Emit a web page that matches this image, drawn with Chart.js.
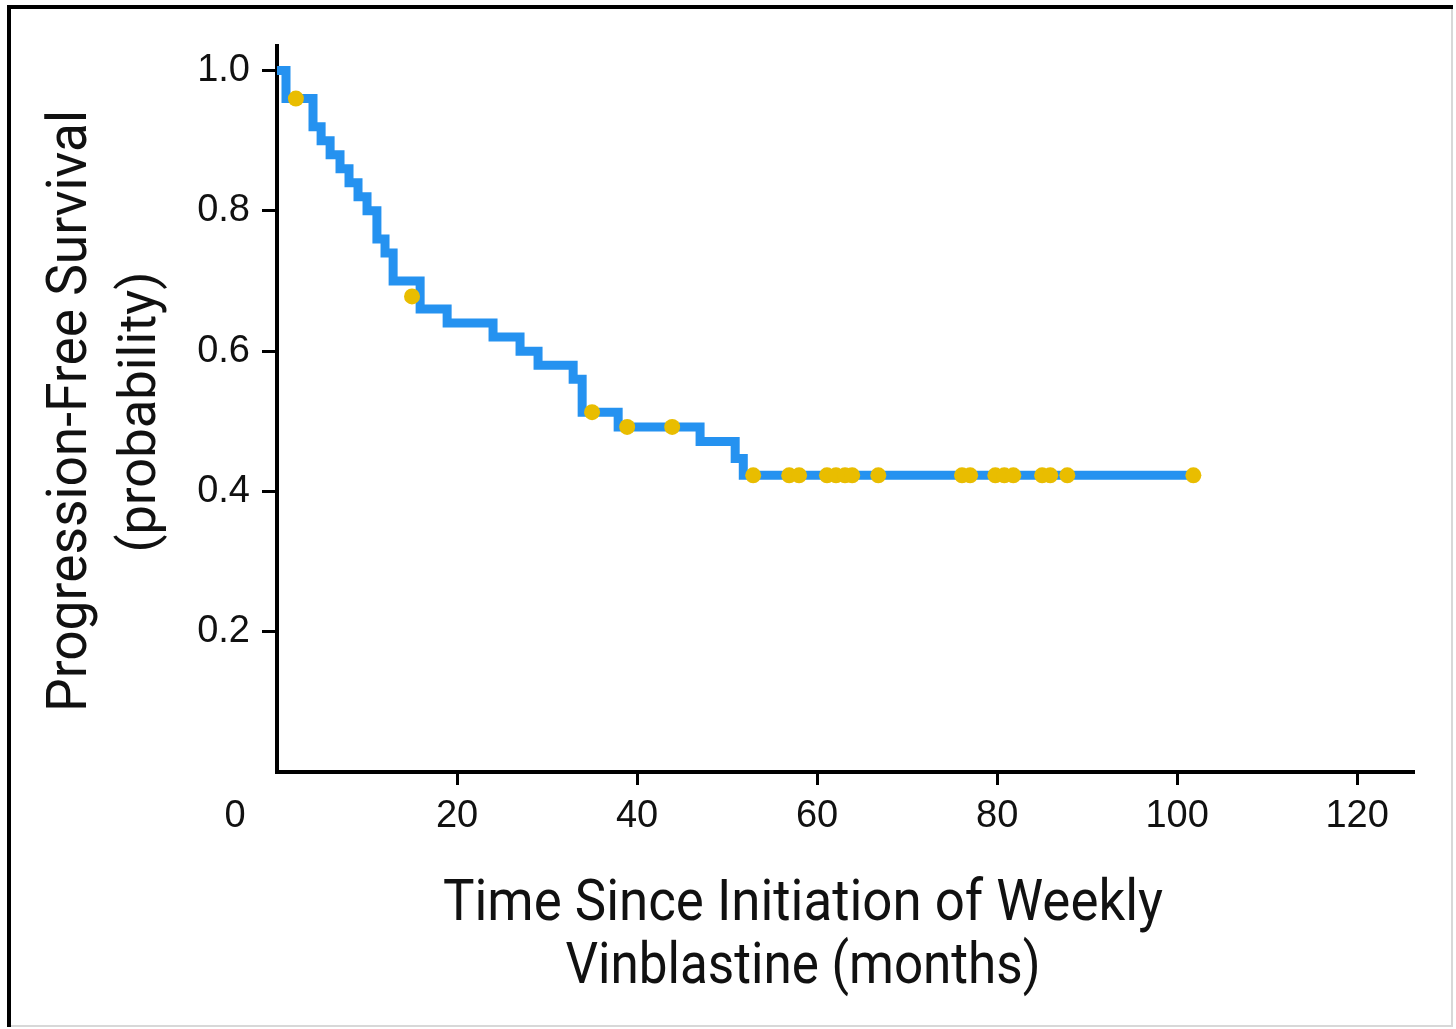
<!DOCTYPE html>
<html>
<head>
<meta charset="utf-8">
<title>Progression-Free Survival</title>
<script src="https://cdn.jsdelivr.net/npm/chart.js@4/dist/chart.umd.min.js"></script>
<style>
  html, body { margin: 0; padding: 0; background: #fff; }
  canvas { display: block; }
</style>
</head>
<body>
<canvas id="kmChart" width="1456" height="1029"></canvas>
<script>
// Kaplan-Meier steps: time of event (months) and survival after it
const eventMonths = [0, 1, 4, 4.9, 5.9, 7, 8, 9, 10, 11.1, 12, 12.9, 15.9, 18.9, 24, 27, 29, 32.9, 33.9, 37.9, 47, 50.9, 51.8, 101.8];
const survival    = [1.0, 0.96, 0.92, 0.90, 0.88, 0.86, 0.84, 0.82, 0.80, 0.76, 0.74, 0.70, 0.66, 0.64, 0.62, 0.60, 0.58, 0.56, 0.513, 0.492, 0.471, 0.447, 0.423, 0.423];

// censored patients
const censorMonths   = [2.1, 15.0, 35.0, 38.9, 43.9, 52.9, 56.9, 58.0, 61.1, 62.1, 63.1, 63.9, 66.8, 76.1, 77.0, 79.8, 80.8, 81.8, 85.0, 85.9, 87.8, 101.8];
const censorSurvival = [0.96, 0.678, 0.513, 0.492, 0.492, 0.423, 0.423, 0.423, 0.423, 0.423, 0.423, 0.423, 0.423, 0.423, 0.423, 0.423, 0.423, 0.423, 0.423, 0.423, 0.423, 0.423];

const xTicks = [20, 40, 60, 80, 100, 120];
const yTicks = [0.2, 0.4, 0.6, 0.8, 1.0];

const yTitle = ["Progression-Free Survival", "(probability)"];
const xTitle = ["Time Since Initiation of Weekly", "Vinblastine (months)"];

// draw text squeezed to a given width (source uses a narrow face)
function drawFitted(ctx, text, cx, baseline, width, font, rotate) {
  ctx.save();
  ctx.font = font;
  const w = ctx.measureText(text).width;
  ctx.translate(cx, baseline);
  if (rotate) ctx.rotate(-Math.PI / 2);
  ctx.scale(width / w, 1);
  ctx.textAlign = "center";
  ctx.textBaseline = "alphabetic";
  ctx.fillStyle = "#111";
  ctx.fillText(text, 0, 0);
  ctx.restore();
}

const extras = {
  id: "extras",
  afterDraw(chart) {
    const ctx = chart.ctx;
    const xs = chart.scales.x;

    // frame of the figure
    ctx.save();
    ctx.strokeStyle = "#d8d8d8";
    ctx.lineWidth = 2;
    ctx.strokeRect(9, 7, 1443, 1019);
    ctx.fillStyle = "#000";
    ctx.fillRect(7, 5, 1446, 4);
    ctx.fillRect(7, 5, 4, 1022);
    ctx.restore();

    // shared origin label
    ctx.save();
    ctx.font = "38px 'Liberation Sans', Arial, sans-serif";
    ctx.fillStyle = "#111";
    ctx.textAlign = "center";
    ctx.textBaseline = "middle";
    ctx.fillText("0", xs.getPixelForValue(0) - 42, 817);
    ctx.restore();

    // axis titles
    drawFitted(ctx, yTitle[0], 86, 411, 602, "56px Roboto, 'Liberation Sans', sans-serif", true);
    drawFitted(ctx, yTitle[1], 155, 412, 281, "51px Roboto, 'Liberation Sans', sans-serif", true);
    drawFitted(ctx, xTitle[0], 803, 920, 720, "58px Roboto, 'Liberation Sans', sans-serif", false);
    drawFitted(ctx, xTitle[1], 803, 983, 475, "58px Roboto, 'Liberation Sans', sans-serif", false);
  }
};

const ctx = document.getElementById("kmChart").getContext("2d");
new Chart(ctx, {
  type: "line",
  data: {
    datasets: [
      {
        label: "Censored",
        data: censorMonths.map((m, i) => ({ x: m, y: censorSurvival[i] })),
        showLine: false,
        pointRadius: 8,
        pointBackgroundColor: "#e9bd00",
        pointBorderWidth: 0,
        clip: false
      },
      {
        label: "PFS",
        data: eventMonths.map((m, i) => ({ x: m, y: survival[i] })),
        stepped: "before",
        borderColor: "#2592f0",
        borderWidth: 9,
        borderJoinStyle: "miter",
        pointRadius: 0,
        fill: false,
        clip: false
      }
    ]
  },
  options: {
    responsive: false,
    animation: false,
    devicePixelRatio: 1,
    layout: { padding: { top: 46, right: 43, left: 0, bottom: 0 } },
    plugins: {
      legend: { display: false },
      tooltip: { enabled: false }
    },
    scales: {
      x: {
        type: "linear",
        min: 0,
        max: 126.2,
        afterFit: s => { s.height = 257; },
        afterBuildTicks: s => { s.ticks = xTicks.map(v => ({ value: v })); },
        border: { display: true, color: "#000", width: 4 },
        grid: { display: true, drawOnChartArea: false, drawTicks: true, tickLength: 13, color: "#000", lineWidth: 3 },
        ticks: {
          padding: 9,
          color: "#111",
          font: { family: "'Liberation Sans', Arial, sans-serif", size: 38 },
          maxRotation: 0
        }
      },
      y: {
        type: "linear",
        min: 0,
        max: 1.035,
        afterFit: s => { s.width = 277; },
        afterBuildTicks: s => { s.ticks = yTicks.map(v => ({ value: v })); },
        border: { display: true, color: "#000", width: 4 },
        grid: { display: true, drawOnChartArea: false, drawTicks: true, tickLength: 15, color: "#000", lineWidth: 3 },
        ticks: {
          padding: 12,
          color: "#111",
          font: { family: "'Liberation Sans', Arial, sans-serif", size: 38 },
          callback: v => v.toFixed(1)
        }
      }
    }
  },
  plugins: [extras]
});
</script>
</body>
</html>
